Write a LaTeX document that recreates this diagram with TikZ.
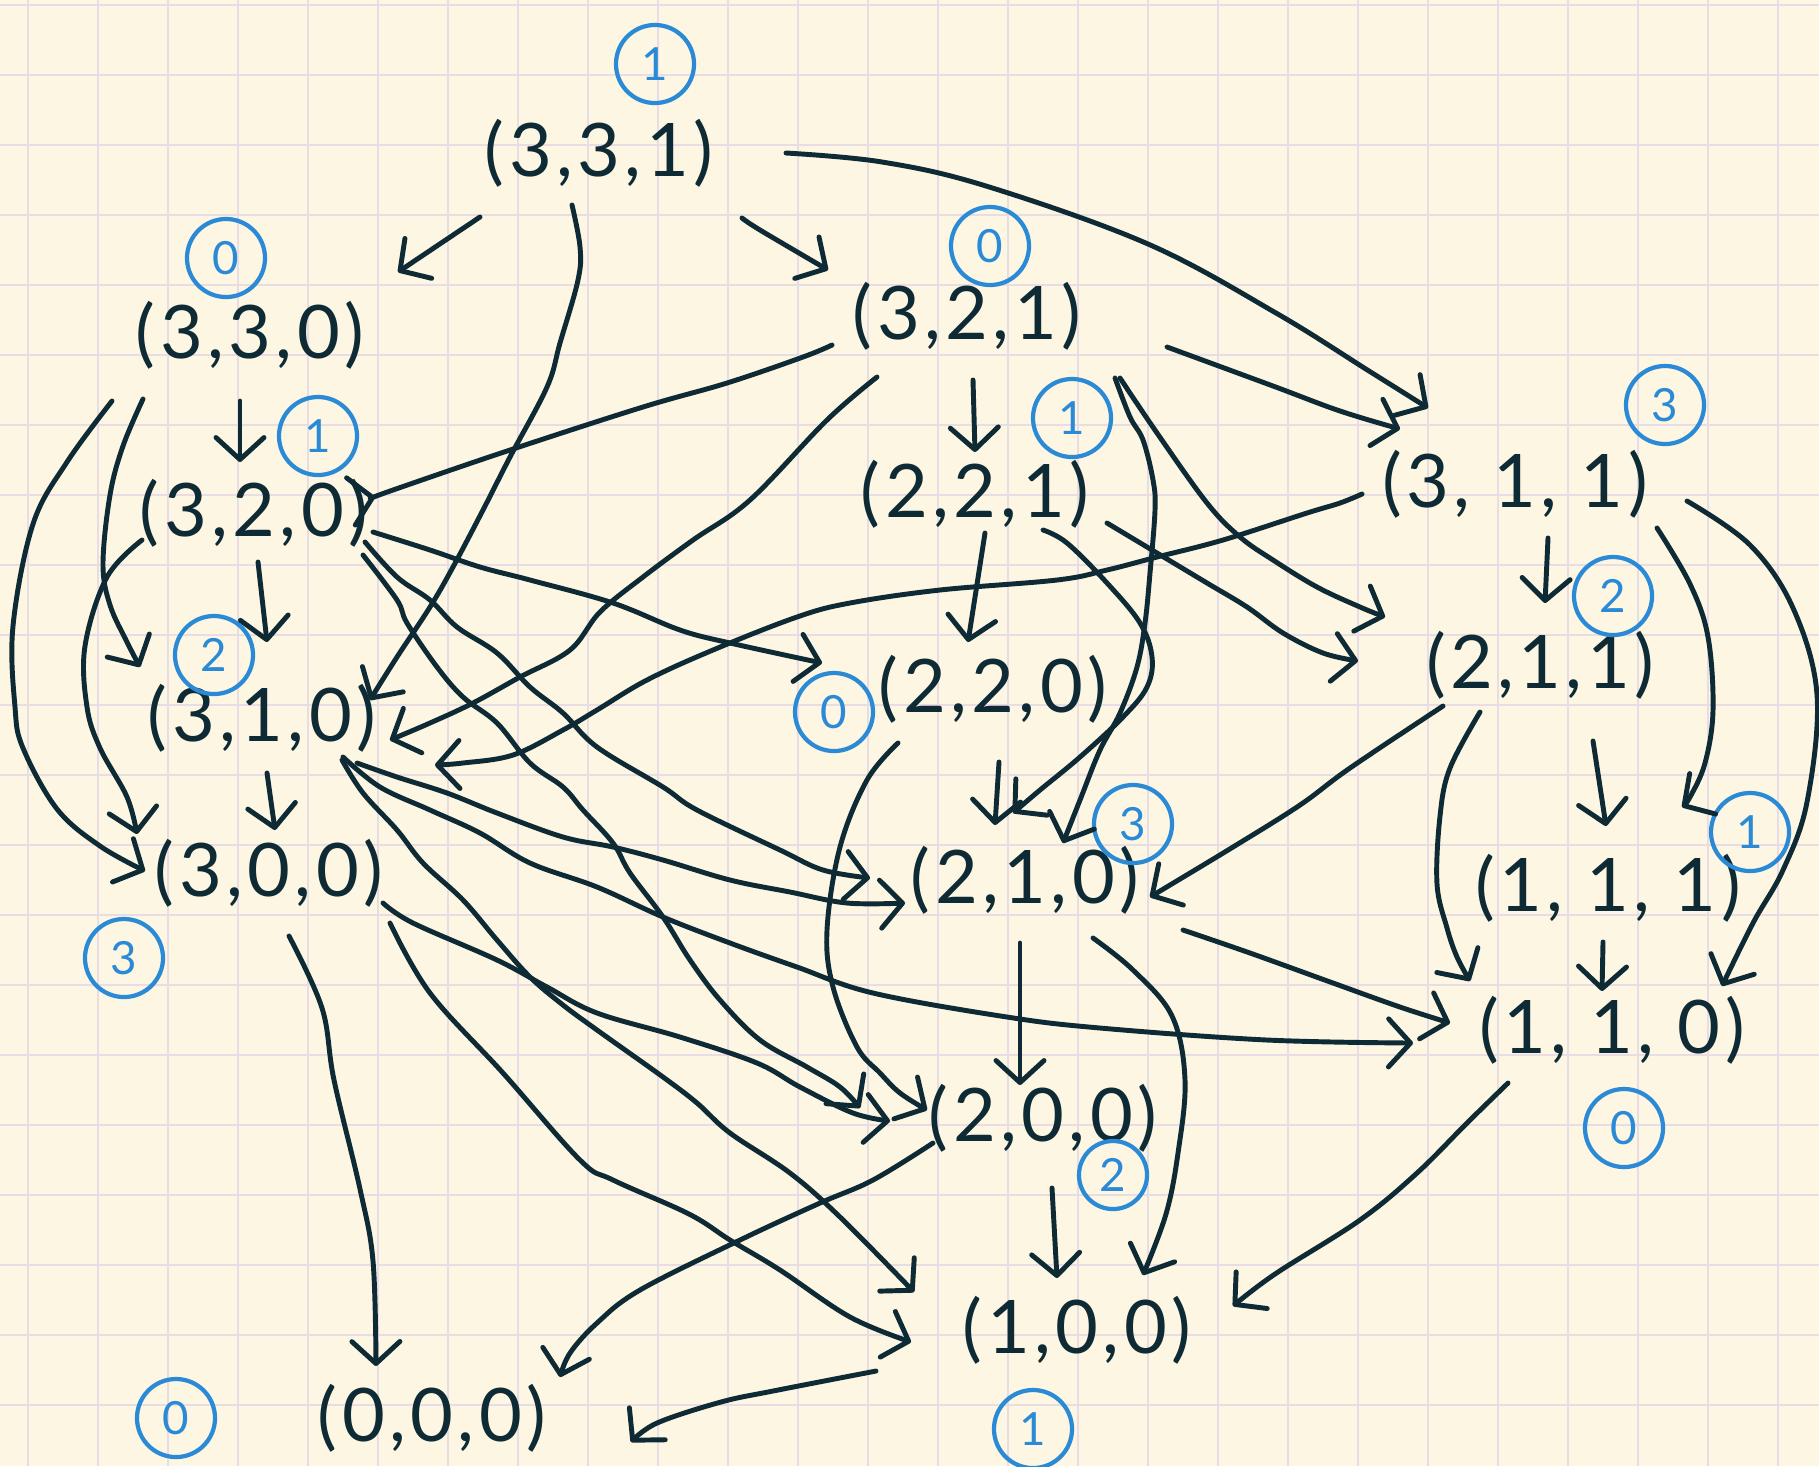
\documentclass[tikz,border=0pt]{standalone}
\usepackage{fontspec}
\setmainfont{Lato}
\newfontfamily\handfont[LetterSpace=6]{Lato}
\usetikzlibrary{arrows.meta,calc}
\definecolor{ink}{HTML}{0E2A34}
\definecolor{bluec}{HTML}{2A8AD6}
\definecolor{paper}{HTML}{FDF6E3}
\definecolor{gridc}{HTML}{E9DDE5}
\begin{document}
\begin{tikzpicture}[x=0.01cm,y=-0.01cm,
  state/.style={inner sep=0pt, text=ink, font=\handfont\fontsize{21}{21}\selectfont},
  badge/.style={circle, draw=bluec, line width=1.2pt, minimum size=0.78cm, inner sep=0pt, text=bluec, font=\fontsize{13}{13}\selectfont},
  edge/.style={draw=ink, line width=1.4pt, line cap=round, line join=round, -{Straight Barb[length=2.2mm,width=4.8mm,round]}},
  sm/.style={smooth, tension=0.6},
  gridl/.style={draw=gridc, line width=0.6pt}]
\useasboundingbox (0,0) rectangle (1819,1466);
\fill[paper] (0,0) rectangle (1819,1466);
\foreach \i in {0,...,25} \draw[gridl] ({28+70*\i},0) -- ({28+70*\i},1466);
\foreach \j in {0,...,20} \draw[gridl] (0,{5+70*\j}) -- (1819,{5+70*\j});

% states
\node[state] (n331) at (599,153) {(3,3,1)};
\node[state] (n330) at (250,335) {(3,3,0)};
\node[state] (n321) at (967,316) {(3,2,1)};
\node[state] (n320) at (254,513) {(3,2,0)};
\node[state] (n221) at (975,494) {(2,2,1)};
\node[state] (n311) at (1515,484) {(3, 1, 1)};
\node[state] (n211) at (1540,665) {(2,1,1)};
\node[state] (n310) at (262,718) {(3,1,0)};
\node[state] (n220) at (993,689) {(2,2,0)};
\node[state] (n300) at (269,873) {(3,0,0)};
\node[state] (n210) at (1025,880) {(2,1,0)};
\node[state] (n111) at (1608,888) {(1, 1, 1)};
\node[state] (n110) at (1612,1030) {(1, 1, 0)};
\node[state] (n200) at (1043,1118) {(2,0,0)};
\node[state] (n100) at (1077,1330) {(1,0,0)};
\node[state] (n000) at (432,1418) {(0,0,0)};

% badges
\node[badge] (b331) at (655,64) {1};
\node[badge] (b330) at (226,258) {0};
\node[badge] (b321) at (990,246) {0};
\node[badge] (b320) at (318,436) {1};
\node[badge] (b221) at (1072,418) {1};
\node[badge] (b311) at (1665,405) {3};
\node[badge] (b211) at (1613,596) {2};
\node[badge] (b310) at (214,655) {2};
\node[badge] (b220) at (834,712) {0};
\node[badge] (b300) at (124,958) {3};
\node[badge] (b210) at (1133,824) {3};
\node[badge] (b111) at (1750,832) {1};
\node[badge] (b110) at (1624,1128) {0};
\node[badge,minimum size=0.68cm] (b200) at (1113,1175) {2};
\node[badge] (b100) at (1033,1429) {1};
\node[badge] (b000) at (176,1418) {0};

% edges
\draw[edge] ($(n331)+(-119,64)$) -- ($(n330)+(148,-63)$);
\draw[edge] plot[sm] coordinates {($(n331)+(143,65)$) (760,230) ($(n321)+(-139,-46)$)};
\draw[edge] plot[sm] coordinates {($(n331)+(-27,52)$) (580,247) (578,280) (560,343) (547,387) (510,457) (483,510) (453,567) (430,607) (397,657) ($(n310)+(108,-18)$)};
\draw[edge] plot[sm] coordinates {($(n331)+(187,0)$) (882,162) (986,186) (1148,244) (1276,313) (1369,371) ($(n311)+(-87,-76)$)};
\draw[edge] ($(n330)+(-10,66)$) -- ($(n320)+(-14,-51)$);
\draw[edge] plot[sm] coordinates {($(n330)+(-107,64)$) (123,446) (110,495) (103,564) (110,605) (127,642) ($(n310)+(-122,-51)$)};
\draw[edge] plot[sm] coordinates {($(n330)+(-138,66)$) (67,462) (33,524) (13,626) (15,707) (23,748) (57,809) (100,846) ($(n300)+(-124,-2)$)};
\draw[edge] ($(n320)+(4,49)$) -- ($(n310)+(5,-76)$);
\draw[edge] plot[sm] coordinates {($(n320)+(-112,27)$) (107,577) (85,646) (87,707) (100,748) (127,797) ($(n300)+(-132,-39)$)};
\draw[edge] plot[sm] coordinates {($(n320)+(119,19)$) (430,550) (480,567) (530,580) (613,603) (680,630) (730,643) ($(n220)+(-171,-26)$)};
\draw[edge] plot[sm] coordinates {($(n320)+(111,29)$) (397,577) (430,600) (457,627) (497,653) (530,687) (563,713) (597,747) (663,787) (697,810) (780,850) (823,870) ($(n210)+(-155,-2)$)};
\draw[edge] plot[sm] coordinates {($(n320)+(109,42)$) (397,600) (407,623) (437,667) (463,697) (497,723) (530,763) (563,787) (583,810) (613,843) (630,873) (663,917) (690,960) (720,1000) (760,1040) (807,1067) (840,1087) ($(n200)+(-183,-10)$)};
\draw[edge] plot[sm] coordinates {($(n310)+(95,45)$) (397,777) (447,793) (497,813) (563,837) (613,847) (663,860) (730,880) (790,892) (847,903) ($(n210)+(-120,23)$)};
\draw[edge] plot[sm] coordinates {($(n310)+(81,39)$) (380,787) (430,810) (480,833) (530,863) (597,887) (663,917) (730,943) (797,967) (873,993) (1007,1017) (1100,1028) (1267,1040) ($(n110)+(-199,13)$)};
\draw[edge] plot[sm] coordinates {($(n310)+(80,42)$) (363,793) (397,830) (423,863) (463,900) (497,940) (530,977) (563,1005) (597,1030) (663,1077) (697,1103) (730,1133) (790,1173) (840,1217) ($(n100)+(-163,-38)$)};
\draw[edge] ($(n310)+(5,55)$) -- ($(n300)+(6,-43)$);
\draw[edge] plot[sm] coordinates {($(n321)+(-135,29)$) (803,357) (727,383) (643,407) (510,450) (393,490) ($(n320)+(121,-16)$)};
\draw[edge] plot[sm] coordinates {($(n321)+(-90,61)$) (827,420) (750,500) (693,540) (643,577) (600,612) (570,650) (520,677) (473,703) (430,723) ($(n310)+(128,22)$)};
\draw[edge] ($(n321)+(6,64)$) -- ($(n221)+(0,-42)$);
\draw[edge] plot[sm] coordinates {($(n321)+(200,31)$) (1273,386) (1340,411) ($(n311)+(-115,-55)$)};
\draw[edge] plot[sm] coordinates {($(n321)+(148,62)$) (1130,417) (1143,440) (1153,480) (1155,510) (1150,573) (1145,623) (1137,667) (1120,713) (1100,750) (1080,800) ($(n210)+(38,-37)$)};
\draw[edge] plot[sm] coordinates {($(n321)+(153,62)$) (1157,433) (1207,503) (1240,537) (1273,560) (1317,587) (1360,607) ($(n211)+(-155,-48)$)};
\draw[edge] ($(n221)+(10,39)$) -- ($(n220)+(-25,-47)$);
\draw[edge] plot[sm] coordinates {($(n221)+(132,29)$) (1157,553) (1207,583) (1247,607) (1283,633) (1323,653) ($(n211)+(-182,-4)$)};
\draw[edge] plot[sm] coordinates {($(n221)+(68,36)$) (1067,543) (1107,583) (1140,623) (1152,657) (1147,687) (1123,717) (1080,757) (1040,790) ($(n210)+(-12,-67)$)};
\draw[edge] plot[sm] coordinates {($(n311)+(-153,10)$) (1340,503) (1307,513) (1223,540) (1157,557) (1107,570) (1057,580) (940,590) (850,603) (797,617) (713,650) (647,680) (597,710) (563,730) (513,755) (463,763) ($(n310)+(173,47)$)};
\draw[edge] ($(n311)+(33,54)$) -- ($(n211)+(5,-62)$);
\draw[edge] plot[sm] coordinates {($(n311)+(142,44)$) (1690,584) (1708,637) (1713,710) (1705,763) (1690,797) ($(n111)+(74,-81)$)};
\draw[edge] plot[sm] coordinates {($(n311)+(172,17)$) (1750,545) (1793,608) (1817,695) (1807,802) (1783,870) (1753,923) ($(n110)+(110,-44)$)};
\draw[edge] plot[sm] coordinates {($(n211)+(-97,41)$) (1350,768) (1300,805) (1233,847) ($(n210)+(125,17)$)};
\draw[edge] ($(n211)+(53,76)$) -- ($(n111)+(-2,-62)$);
\draw[edge] plot[sm] coordinates {($(n211)+(-60,47)$) (1450,768) (1440,816) (1437,884) (1447,928) (1457,957) ($(n110)+(-142,-49)$)};
\draw[edge] ($(n111)+(-5,54)$) -- ($(n110)+(-10,-39)$);
\draw[edge] ($(n220)+(6,73)$) -- ($(n210)+(-30,-55)$);
\draw[edge] plot[sm] coordinates {($(n220)+(-95,54)$) (867,780) (840,847) (827,930) (833,987) (857,1047) (880,1073) (900,1093) ($(n200)+(-116,-8)$)};
\draw[edge] plot[sm] coordinates {($(n300)+(114,30)$) (413,923) (497,960) (547,987) (597,1013) (680,1037) (757,1063) (800,1087) (853,1113) ($(n200)+(-153,3)$)};
\draw[edge] plot[sm] coordinates {($(n300)+(121,50)$) (430,993) (503,1073) (580,1160) (613,1180) (689,1214) (730,1240) (780,1270) (850,1317) ($(n100)+(-166,12)$)};
\draw[edge] plot[sm] coordinates {($(n300)+(20,63)$) (322,1008) (334,1080) (360,1189) (373,1261) ($(n000)+(-56,-52)$)};
\draw[edge] plot[sm] coordinates {($(n210)+(158,50)$) (1250,953) (1333,983) (1400,1007) ($(n110)+(-162,-7)$)};
\draw[edge] ($(n210)+(-5,63)$) -- ($(n200)+(-23,-33)$);
\draw[edge] plot[sm] coordinates {($(n210)+(68,58)$) (1133,970) (1172,1016) (1185,1080) (1178,1153) (1166,1214) ($(n100)+(66,-55)$)};
\draw[edge] ($(n200)+(9,70)$) -- ($(n100)+(-20,-52)$);
\draw[edge] plot[sm] coordinates {($(n200)+(-110,25)$) (873,1180) (820,1203) (740,1240) (640,1290) (597,1323) (570,1353) ($(n000)+(128,-41)$)};
\draw[edge] plot[sm] coordinates {($(n110)+(-104,53)$) (1467,1123) (1417,1173) (1360,1220) (1275,1274) ($(n100)+(156,-24)$)};
\draw[edge] plot[sm] coordinates {($(n100)+(-201,41)$) (773,1391) (721,1402) (657,1423) ($(n000)+(199,24)$)};
\end{tikzpicture}
\end{document}
